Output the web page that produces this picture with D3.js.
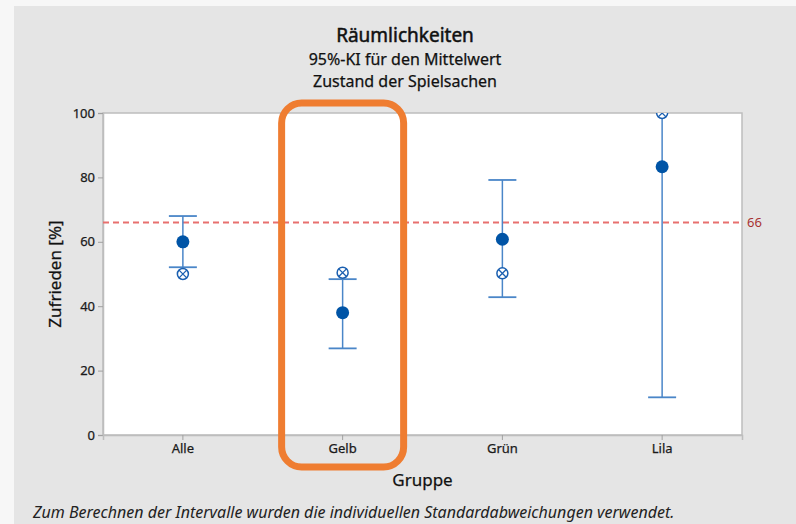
<!DOCTYPE html>
<html>
<head>
<meta charset="utf-8">
<script src="https://cdn.jsdelivr.net/npm/d3@7/dist/d3.min.js"></script>
<style>
  body { margin: 0; background: #f7f7f7; }
  svg { display: block; font-family: "Noto Sans", "Open Sans", sans-serif; }
</style>
</head>
<body>
<div id="chart"></div>
<script>
// groups and interval values
var groups = ["Alle", "Gelb", "Grün", "Lila"];
var means = [60, 38, 60.8, 83.3];
var lower = [52.1, 26.9, 42.8, 11.7];
var upper = [68, 48.4, 79.2, 155];
var medians = [50, 50.4, 50.2, 100];
var refValue = 66;
var yTicks = [0, 20, 40, 60, 80, 100];

var W = 796, H = 524;
var margin = {left: 103, right: 54, top: 113, bottom: 89};

var svg = d3.select("#chart").append("svg")
    .attr("width", W)
    .attr("height", H);

// gray panel
svg.append("rect")
    .attr("x", 14).attr("y", 6)
    .attr("width", W - 14).attr("height", H - 6)
    .style("fill", "#e5e5e5");

var x = d3.scaleBand()
    .domain(groups)
    .range([margin.left, W - margin.right]);
var y = d3.scaleLinear()
    .domain([0, 100])
    .range([H - margin.bottom, margin.top]);

// plot area
svg.append("rect")
    .attr("x", margin.left).attr("y", margin.top)
    .attr("width", W - margin.left - margin.right)
    .attr("height", H - margin.top - margin.bottom)
    .style("fill", "#ffffff")
    .style("stroke", "#bdbdbd")
    .style("stroke-width", 1.5);

svg.append("clipPath").attr("id", "plotclip")
  .append("rect")
    .attr("x", margin.left).attr("y", margin.top)
    .attr("width", W - margin.left - margin.right)
    .attr("height", H - margin.top - margin.bottom);

// axes
var yAxis = svg.append("g")
    .attr("transform", "translate(" + margin.left + ",0)")
    .call(d3.axisLeft(y).tickValues(yTicks).tickSize(5).tickPadding(3));
var xAxis = svg.append("g")
    .attr("transform", "translate(0," + (H - margin.bottom) + ")")
    .call(d3.axisBottom(x).tickSize(5).tickPadding(4));
[xAxis, yAxis].forEach(function(a){
    a.select(".domain").style("stroke", "#bdbdbd").style("stroke-width", 1.5);
    a.selectAll(".tick line").style("stroke", "#a0a0a0");
    a.selectAll(".tick text")
        .style("font-size", "13px")
        .style("fill", "#1a1a1a")
        .style("stroke", "#1a1a1a").style("stroke-width", 0.25)
        .style("font-family", "'Noto Sans', sans-serif");
});

// reference line
svg.append("line")
    .attr("x1", margin.left).attr("x2", W - margin.right)
    .attr("y1", y(refValue)).attr("y2", y(refValue))
    .style("stroke", "#e8706e")
    .style("stroke-width", 1.8)
    .style("stroke-dasharray", "6,4");
svg.append("text")
    .attr("x", W - margin.right + 5)
    .attr("y", y(refValue) + 4.5)
    .text(refValue)
    .style("font-size", "13px")
    .style("fill", "#a83232");

// intervals
var plot = svg.append("g").attr("clip-path", "url(#plotclip)");
var capW = 14;
var blue = "#4a86c8";
groups.forEach(function(g, i){
    var cx = x(g) + x.bandwidth() / 2;
    plot.append("line")
        .attr("x1", cx).attr("x2", cx)
        .attr("y1", y(lower[i])).attr("y2", y(upper[i]))
        .style("stroke", blue).style("stroke-width", 1.5);
    [lower[i], upper[i]].forEach(function(v){
        plot.append("line")
            .attr("x1", cx - capW).attr("x2", cx + capW)
            .attr("y1", y(v)).attr("y2", y(v))
            .style("stroke", blue).style("stroke-width", 1.8);
    });
    // crossed circle
    var my = y(medians[i]), r = 5.5;
    plot.append("circle")
        .attr("cx", cx).attr("cy", my).attr("r", r)
        .style("fill", "#fff").style("stroke", "#1a5fb0").style("stroke-width", 1.5);
    var d = r * 0.7;
    plot.append("path")
        .attr("d", "M" + (cx - d) + "," + (my - d) + "L" + (cx + d) + "," + (my + d) +
                   "M" + (cx + d) + "," + (my - d) + "L" + (cx - d) + "," + (my + d))
        .style("stroke", "#1a5fb0").style("stroke-width", 1.3);
    // mean
    plot.append("circle")
        .attr("cx", cx).attr("cy", y(means[i])).attr("r", 6.5)
        .style("fill", "#0054a6");
});

// titles, centred on the panel
var cxPanel = (14 + W) / 2;
svg.append("text").attr("x", cxPanel).attr("y", 42)
    .attr("text-anchor", "middle").text("Räumlichkeiten")
    .style("font-size", "19px").style("fill", "#111")
    .style("stroke", "#111").style("stroke-width", 0.5);
svg.append("text").attr("x", cxPanel).attr("y", 65)
    .attr("text-anchor", "middle").text("95%-KI für den Mittelwert")
    .style("font-size", "16px").style("fill", "#111")
    .style("stroke", "#111").style("stroke-width", 0.25);
svg.append("text").attr("x", cxPanel).attr("y", 87)
    .attr("text-anchor", "middle").text("Zustand der Spielsachen")
    .style("font-size", "16px").style("fill", "#111")
    .style("stroke", "#111").style("stroke-width", 0.25);

var cxPlot = (margin.left + W - margin.right) / 2;
svg.append("text").attr("x", cxPlot).attr("y", 486)
    .attr("text-anchor", "middle").text("Gruppe")
    .style("font-size", "17px").style("fill", "#111")
    .style("stroke", "#111").style("stroke-width", 0.25);
svg.append("text")
    .attr("transform", "translate(61," + ((margin.top + H - margin.bottom) / 2) + ") rotate(-90)")
    .attr("text-anchor", "middle").text("Zufrieden [%]")
    .style("font-size", "17px").style("fill", "#111")
    .style("stroke", "#111").style("stroke-width", 0.25);

svg.append("text").attr("x", 33).attr("y", 518)
    .text("Zum Berechnen der Intervalle wurden die individuellen Standardabweichungen verwendet.")
    .style("font-size", "16px").style("font-style", "italic").style("fill", "#222");

// highlight box around Gelb
var gx = x("Gelb") + x.bandwidth() / 2;
svg.append("rect")
    .attr("x", gx - 61).attr("y", 103)
    .attr("width", 122).attr("height", 364)
    .attr("rx", 20).attr("ry", 20)
    .style("fill", "none")
    .style("stroke", "#ef7d31")
    .style("stroke-width", 7);
</script>
</body>
</html>
